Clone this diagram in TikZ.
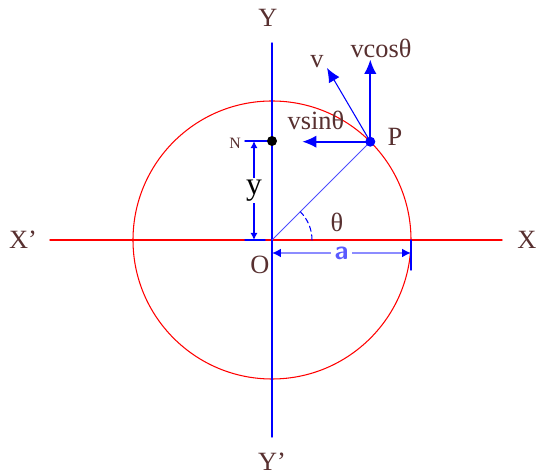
\documentclass[tikz,border=0pt]{standalone}
\usepackage{fontspec}
\setmainfont{Liberation Serif}
\usetikzlibrary{arrows.meta,calc}

\definecolor{lblbrown}{RGB}{88,48,48}
\definecolor{dimblue}{RGB}{140,140,255}
\definecolor{ablue}{RGB}{90,90,255}

\tikzset{
  lbl/.style={text=lblbrown, font=\fontsize{15}{18}\selectfont, inner sep=1pt},
  vec/.style={blue, line width=1pt, -{Latex[length=8pt,width=7pt]}},
  dim/.style={blue, line width=0.7pt, {Latex[length=4pt,width=4pt]}-{Latex[length=4pt,width=4pt]}}
}

\begin{document}
\begin{tikzpicture}[x=0.02cm, y=0.02cm, line cap=round, line join=round]
  \useasboundingbox (-272,-235) rectangle (264,240);
  % --- Toạ độ ---
  \coordinate (O) at (0,0);
  \coordinate (P) at (45:139);
  \coordinate (N) at (0,99);
  \coordinate (Xl) at (-222,0);
  \coordinate (Xr) at (230,0);
  \coordinate (Yt) at (0,197);
  \coordinate (Yb) at (0,-197);
  % ngọn các vectơ
  \coordinate (Tv) at (55,172);
  \coordinate (Tc) at ($(P)+(0,82)$);
  \coordinate (Ts) at ($(P)+(-68,0)$);

  % --- Đường tròn và hai trục ---
  \draw[red, line width=0.6pt] (O) circle (139);
  \draw[red, line width=0.8pt] (Xl) -- (Xr);
  \draw[blue, line width=0.8pt] (Yt) -- (Yb);

  % --- Bán kính OP và góc ---
  \draw[blue!70, line width=0.5pt] (O) -- (P);
  \draw[blue, line width=0.6pt, densely dashed] (40,0) arc (0:45:40);

  % --- Các vectơ vận tốc ---
  \draw[vec, line width=0.6pt] (P) -- (Tv);
  \draw[vec] (P) -- (Tc);
  \draw[vec] (P) -- (Ts);

  % --- Kích thước y ---
  \draw[blue, line width=0.8pt] (-27,99) -- (N);
  \draw[blue, line width=0.8pt] (-27,0) -- (-7,0);
  \draw[dim] (-18,99) -- node[fill=white, text=black, font=\fontsize{18}{20}\selectfont, inner sep=1pt] {y} (-18,0);

  % --- Kích thước a ---
  \draw[blue, line width=0.8pt] (139,0) -- (139,-30);
  \draw[dimblue, line width=1pt, {Latex[length=5pt,width=5pt,blue]}-{Latex[length=5pt,width=5pt,blue]}] (0,-13) -- node[fill=white, text=ablue, font=\sffamily\bfseries\fontsize{15}{18}\selectfont, inner sep=2pt] {a} (139,-13);

  % --- Chấm điểm ---
  \fill[black] (N) circle (5);
  \fill[blue] (P) circle (5);

  % --- Nhãn ---
  \node[lbl] (lY) at (-4,222) {Y};
  \node[lbl] (lYp) at (0,-222) {Y’};
  \node[lbl] (lXp) at (-249,0) {X’};
  \node[lbl] (lX) at (255,0) {X};
  \node[lbl] (lO) at (-12,-25) {O};
  \node[lbl] (lP) at (123,103) {P};
  \node[lbl] (lv) at (45,178) {v};
  \node[lbl] (lc) at (109,192) {vcosθ};
  \node[lbl] (ls) at (44,120) {vsinθ};
  \node[lbl, font=\fontsize{9}{11}\selectfont] (lN) at (-37,97) {N};
  \node[lbl] (lt) at (65,18) {θ};
\end{tikzpicture}
\end{document}
